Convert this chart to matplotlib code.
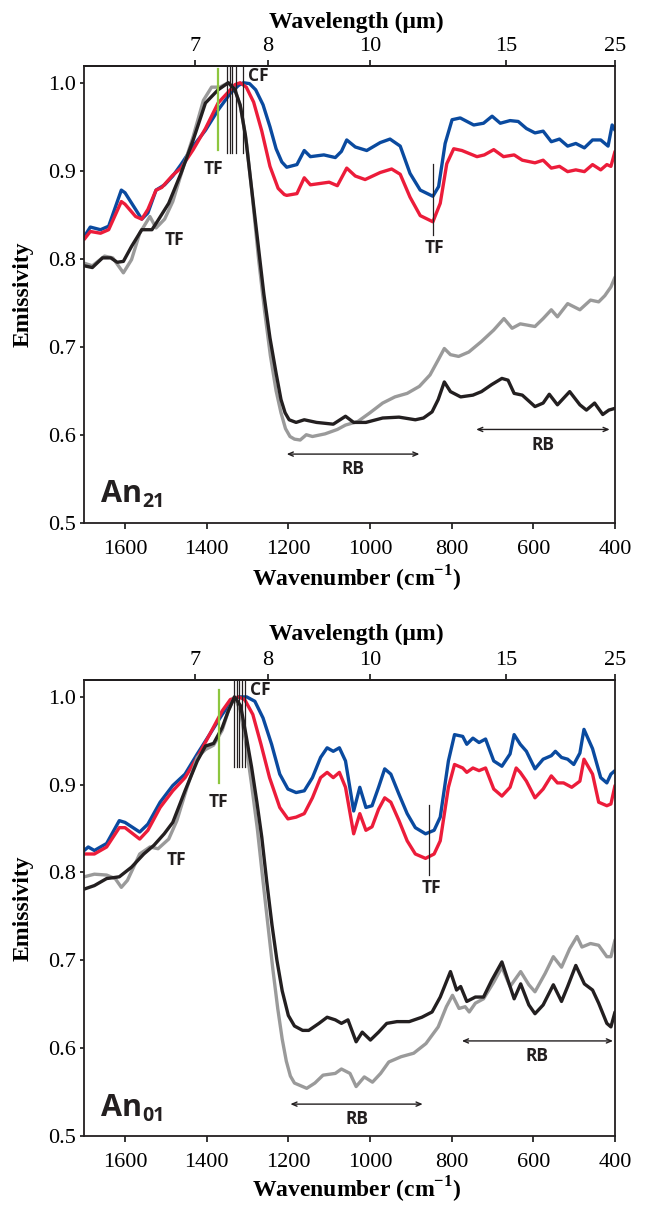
import numpy as np
import matplotlib.pyplot as plt
from matplotlib.ticker import FormatStrFormatter

plt.rcParams['font.family'] = 'Liberation Serif'
plt.rcParams['mathtext.fontset'] = 'custom'
plt.rcParams['mathtext.rm'] = 'Liberation Serif'
plt.rcParams['mathtext.bf'] = 'Liberation Serif:bold'

BLUE = '#0a4a9f'
RED = '#ec1c3a'
BLACK = '#231f20'
GRAY = '#9a9a9a'
GREEN = '#8dc63f'
SANS = 'Open Sans'

# ---------- An21 (top panel) ----------
an21_blue_x = [1700, 1685, 1660, 1640, 1609, 1600, 1574, 1559, 1544, 1524, 1503, 1483, 1463, 1433, 1403,
               1372, 1342, 1322, 1310, 1295, 1280, 1262, 1245, 1230, 1216, 1204, 1179, 1161, 1146, 1113,
               1085, 1070, 1057, 1036, 1008, 975, 951, 926, 902, 877, 846, 832, 816, 799, 779, 746, 722,
               701, 681, 657, 637, 617, 596, 576, 556, 536, 516, 496, 475, 455, 435, 417, 407, 400]
an21_blue_y = [0.825, 0.836, 0.833, 0.837, 0.878, 0.875, 0.856, 0.845, 0.852, 0.878, 0.884, 0.894, 0.907,
               0.928, 0.946, 0.969, 0.988, 0.997, 1.0, 0.999, 0.992, 0.975, 0.950, 0.925, 0.910, 0.904,
               0.907, 0.923, 0.916, 0.918, 0.915, 0.922, 0.935, 0.927, 0.923, 0.932, 0.936, 0.928, 0.897,
               0.878, 0.871, 0.882, 0.931, 0.958, 0.960, 0.952, 0.954, 0.962, 0.954, 0.957, 0.956, 0.948,
               0.943, 0.945, 0.933, 0.936, 0.928, 0.931, 0.926, 0.935, 0.935, 0.928, 0.952, 0.946]

an21_red_x = [1700, 1685, 1660, 1640, 1609, 1600, 1574, 1559, 1544, 1524, 1510, 1483, 1463, 1433, 1403,
              1372, 1342, 1330, 1318, 1303, 1285, 1265, 1245, 1225, 1210, 1204, 1179, 1161, 1146, 1100,
              1080, 1057, 1036, 1012, 975, 947, 926, 902, 877, 846, 828, 812, 795, 775, 738, 720, 697,
              673, 647, 627, 596, 576, 556, 536, 516, 496, 475, 455, 435, 420, 410, 400]
an21_red_y = [0.822, 0.831, 0.829, 0.833, 0.865, 0.862, 0.848, 0.845, 0.856, 0.878, 0.881, 0.895, 0.903,
              0.924, 0.948, 0.977, 0.992, 0.998, 1.0, 0.995, 0.978, 0.945, 0.905, 0.880, 0.873, 0.872,
              0.874, 0.892, 0.884, 0.887, 0.883, 0.903, 0.894, 0.890, 0.898, 0.902, 0.896, 0.870, 0.849,
              0.842, 0.863, 0.908, 0.925, 0.923, 0.916, 0.918, 0.924, 0.916, 0.918, 0.912, 0.909, 0.912,
              0.903, 0.905, 0.899, 0.901, 0.899, 0.907, 0.901, 0.907, 0.905, 0.922]

an21_black_x = [1700, 1680, 1655, 1635, 1619, 1604, 1584, 1559, 1534, 1520, 1493, 1463, 1433, 1403, 1372,
                1347, 1332, 1318, 1305, 1290, 1275, 1260, 1245, 1230, 1218, 1208, 1198, 1181, 1161, 1131,
                1090, 1060, 1040, 1010, 969, 929, 889, 869, 848, 833, 818, 803, 778, 748, 727, 702, 677,
                662, 647, 627, 596, 576, 561, 541, 511, 486, 470, 450, 430, 415, 400]
an21_black_y = [0.792, 0.790, 0.801, 0.801, 0.796, 0.797, 0.814, 0.833, 0.833, 0.843, 0.863, 0.897, 0.935,
                0.977, 0.992, 1.0, 0.993, 0.975, 0.94, 0.88, 0.82, 0.76, 0.71, 0.67, 0.64, 0.625, 0.617,
                0.614, 0.617, 0.614, 0.612, 0.621, 0.614, 0.614, 0.619, 0.620, 0.617, 0.619, 0.626, 0.640,
                0.660, 0.649, 0.643, 0.645, 0.649, 0.657, 0.664, 0.662, 0.647, 0.645, 0.632, 0.636, 0.646,
                0.634, 0.649, 0.634, 0.628, 0.636, 0.623, 0.628, 0.630]

an21_gray_x = [1700, 1680, 1650, 1630, 1604, 1584, 1564, 1539, 1524, 1503, 1483, 1458, 1433, 1408, 1388,
               1368, 1347, 1330, 1316, 1302, 1288, 1273, 1258, 1244, 1230, 1218, 1207, 1196, 1185, 1171,
               1156, 1141, 1110, 1080, 1060, 1030, 1000, 969, 939, 909, 879, 853, 833, 818, 803, 783, 758,
               727, 697, 672, 652, 632, 596, 576, 556, 541, 516, 486, 460, 440, 425, 410, 400]
an21_gray_y = [0.795, 0.792, 0.803, 0.801, 0.784, 0.799, 0.829, 0.848, 0.835, 0.845, 0.865, 0.903, 0.939,
               0.980, 0.995, 0.995, 1.0, 0.992, 0.970, 0.93, 0.87, 0.80, 0.74, 0.69, 0.65, 0.625, 0.607,
               0.598, 0.595, 0.594, 0.600, 0.598, 0.601, 0.606, 0.611, 0.615, 0.625, 0.636, 0.643, 0.647,
               0.655, 0.668, 0.685, 0.698, 0.691, 0.689, 0.694, 0.706, 0.719, 0.732, 0.721, 0.726, 0.723,
               0.732, 0.742, 0.734, 0.749, 0.742, 0.753, 0.751, 0.758, 0.768, 0.779]

# ---------- An01 (bottom panel) ----------
an01_blue_x = [1700, 1690, 1675, 1645, 1614, 1600, 1564, 1544, 1514, 1483, 1453, 1423, 1393, 1362, 1342,
               1322, 1302, 1282, 1262, 1241, 1221, 1201, 1181, 1161, 1141, 1121, 1105, 1090, 1075, 1060,
               1040, 1025, 1010, 995, 979, 964, 949, 929, 909, 889, 864, 843, 828, 808, 793, 773, 763,
               748, 733, 717, 697, 677, 657, 647, 632, 617, 596, 576, 556, 546, 531, 516, 501, 486, 476,
               455, 435, 420, 410, 400]
an01_blue_y = [0.825, 0.829, 0.825, 0.833, 0.859, 0.857, 0.846, 0.855, 0.880, 0.899, 0.912, 0.935, 0.957,
               0.980, 0.993, 1.0, 1.0, 0.995, 0.976, 0.946, 0.912, 0.895, 0.891, 0.893, 0.908, 0.931,
               0.942, 0.938, 0.942, 0.927, 0.870, 0.897, 0.874, 0.876, 0.897, 0.918, 0.912, 0.889, 0.867,
               0.851, 0.844, 0.848, 0.863, 0.927, 0.957, 0.955, 0.946, 0.953, 0.948, 0.952, 0.927, 0.921,
               0.935, 0.957, 0.946, 0.938, 0.918, 0.929, 0.933, 0.938, 0.931, 0.929, 0.923, 0.936, 0.963,
               0.941, 0.908, 0.902, 0.912, 0.916]

an01_red_x = [1700, 1675, 1645, 1614, 1600, 1564, 1544, 1514, 1483, 1453, 1423, 1393, 1362, 1342, 1322,
              1307, 1287, 1267, 1246, 1221, 1201, 1181, 1161, 1141, 1121, 1105, 1090, 1075, 1060, 1040,
              1025, 1010, 995, 979, 964, 949, 929, 909, 889, 864, 843, 828, 808, 793, 773, 763, 748, 733,
              717, 697, 677, 657, 642, 632, 617, 596, 576, 556, 541, 526, 506, 486, 476, 455, 440, 420,
              410, 400]
an01_red_y = [0.821, 0.821, 0.829, 0.851, 0.851, 0.838, 0.848, 0.874, 0.893, 0.908, 0.931, 0.957, 0.984,
              0.997, 1.0, 0.997, 0.980, 0.946, 0.908, 0.874, 0.861, 0.863, 0.867, 0.885, 0.908, 0.914,
              0.908, 0.914, 0.897, 0.844, 0.867, 0.848, 0.852, 0.872, 0.885, 0.880, 0.859, 0.836, 0.821,
              0.816, 0.821, 0.836, 0.897, 0.923, 0.919, 0.914, 0.919, 0.916, 0.919, 0.895, 0.887, 0.897,
              0.919, 0.914, 0.904, 0.885, 0.895, 0.910, 0.902, 0.902, 0.897, 0.904, 0.929, 0.912, 0.880,
              0.876, 0.878, 0.899]

an01_black_x = [1700, 1675, 1645, 1614, 1584, 1554, 1529, 1504, 1483, 1453, 1423, 1403, 1383, 1362, 1347,
                1332, 1317, 1305, 1290, 1277, 1265, 1253, 1240, 1228, 1215, 1200, 1185, 1165, 1150, 1125,
                1105, 1085, 1070, 1054, 1034, 1019, 999, 979, 959, 934, 904, 873, 848, 828, 803, 788, 778,
                763, 742, 722, 702, 677, 662, 647, 631, 611, 596, 576, 551, 531, 516, 496, 475, 455, 440,
                420, 410, 400]
an01_black_y = [0.781, 0.785, 0.793, 0.795, 0.806, 0.821, 0.831, 0.844, 0.857, 0.893, 0.927, 0.944, 0.947,
                0.965, 0.984, 1.0, 0.99, 0.96, 0.92, 0.88, 0.84, 0.79, 0.74, 0.70, 0.665, 0.637, 0.625,
                0.620, 0.620, 0.628, 0.635, 0.632, 0.628, 0.632, 0.607, 0.618, 0.609, 0.618, 0.628, 0.630,
                0.630, 0.635, 0.641, 0.658, 0.687, 0.666, 0.670, 0.653, 0.658, 0.658, 0.677, 0.698, 0.677,
                0.656, 0.673, 0.649, 0.639, 0.649, 0.672, 0.653, 0.670, 0.694, 0.673, 0.666, 0.651, 0.628,
                0.624, 0.641]

an01_gray_x = [1700, 1675, 1645, 1624, 1609, 1594, 1564, 1539, 1519, 1493, 1473, 1448, 1423, 1403, 1383,
               1362, 1347, 1332, 1318, 1305, 1290, 1276, 1262, 1250, 1238, 1226, 1215, 1205, 1195, 1185,
               1155, 1135, 1115, 1085, 1070, 1049, 1034, 1014, 994, 974, 954, 924, 893, 863, 833, 813,
               798, 782, 767, 757, 742, 722, 697, 677, 657, 631, 611, 596, 571, 551, 531, 511, 493, 481,
               460, 440, 420, 410, 400]
an01_gray_y = [0.795, 0.798, 0.797, 0.793, 0.783, 0.791, 0.821, 0.829, 0.827, 0.838, 0.859, 0.897, 0.931,
               0.940, 0.945, 0.962, 0.984, 1.0, 0.985, 0.95, 0.90, 0.85, 0.79, 0.74, 0.69, 0.645, 0.61,
               0.585, 0.568, 0.560, 0.554, 0.560, 0.569, 0.571, 0.576, 0.571, 0.556, 0.567, 0.561, 0.571,
               0.584, 0.590, 0.594, 0.605, 0.624, 0.647, 0.660, 0.645, 0.647, 0.641, 0.651, 0.656, 0.675,
               0.692, 0.670, 0.687, 0.672, 0.664, 0.685, 0.704, 0.692, 0.713, 0.727, 0.715, 0.719, 0.717,
               0.704, 0.704, 0.723]

# feature positions (cm-1)
an21_cf = [1351, 1344, 1337, 1327, 1312]
an01_cf = [1333, 1326, 1320, 1313, 1306]
an21_tf_green, an01_tf_green = 1372, 1370
an21_tf_low, an01_tf_low = 846, 855
an21_rb = [(1204, 879), (740, 413)]
an01_rb = [(1195, 871), (775, 405)]

wn_ticks = [1600, 1400, 1200, 1000, 800, 600, 400]
wl_ticks = [7, 8, 10, 15, 25]
em_ticks = [0.5, 0.6, 0.7, 0.8, 0.9, 1.0]


def wn_to_wl(x):
    x = np.asarray(x, dtype=float)
    with np.errstate(divide='ignore'):
        return 10000.0 / x


def setup(ax):
    ax.set_xlim(1700, 400)
    ax.set_ylim(0.5, 1.019)
    ax.set_xticks(wn_ticks)
    ax.set_yticks(em_ticks)
    ax.yaxis.set_major_formatter(FormatStrFormatter('%.1f'))
    ax.tick_params(axis='x', direction='out', length=4.5, width=1.1, labelsize=16, pad=8)
    ax.tick_params(axis='y', direction='out', length=3, width=1.1, labelsize=16, pad=3)
    for s in ax.spines.values():
        s.set_linewidth(1.3)
        s.set_color(BLACK)
    sec = ax.secondary_xaxis('top', functions=(wn_to_wl, wn_to_wl))
    sec.set_xticks(wl_ticks)
    sec.set_xticklabels([str(w) for w in wl_ticks])
    sec.tick_params(direction='out', length=4.5, width=1.1, labelsize=16, pad=3)
    sec.spines['top'].set_linewidth(1.3)


def draw(ax, curves, cf, tf_green, tf_green_y, tf_green_dx, tf_left, tf_low, tf_low_y,
         rb, rb_y, sub, sub_y):
    for x, y, c in curves:
        ax.plot(x, y, color=c, lw=2.4, solid_joinstyle='round', solid_capstyle='round')
    for x in cf:
        ax.plot([x, x], [1.018, 0.920], color=BLACK, lw=0.9, zorder=5)
    ax.text(cf[-1] - 12, 0.998, 'CF', fontfamily=SANS, fontweight='bold', fontsize=12.5,
            color=BLACK, ha='left', va='bottom')
    ax.plot([tf_green, tf_green], tf_green_y, color=GREEN, lw=1.6, zorder=5)
    ax.text(tf_green + tf_green_dx, tf_green_y[1] - 0.012, 'TF', fontfamily=SANS, fontweight='bold',
            fontsize=12.5, color=BLACK, ha='center', va='top')
    ax.text(tf_left[0], tf_left[1], 'TF', fontfamily=SANS, fontweight='bold', fontsize=12.5,
            color=BLACK, ha='center', va='center')
    ax.plot([tf_low, tf_low], tf_low_y, color=BLACK, lw=0.9, zorder=5)
    ax.text(tf_low - 5, tf_low_y[1] - 0.005, 'TF', fontfamily=SANS, fontweight='bold',
            fontsize=12.5, color=BLACK, ha='center', va='top')
    for (x0, x1), yy in zip(rb, rb_y):
        ax.annotate('', xy=(x1, yy), xytext=(x0, yy),
                    arrowprops=dict(arrowstyle='<->,head_length=0.35,head_width=0.15',
                                    lw=1.0, color=BLACK, shrinkA=0, shrinkB=0))
        ax.text((x0 + x1) / 2, yy - 0.007, 'RB', fontfamily=SANS, fontweight='bold', fontsize=12.5,
                color=BLACK, ha='center', va='top')
    t = ax.text(1660, sub_y, 'An', fontfamily=SANS, fontweight='bold', fontsize=22,
                color=BLACK, ha='left', va='baseline')
    ax.annotate(sub, xy=(1, 0), xycoords=t, xytext=(0.5, -2), textcoords='offset points',
                fontfamily=SANS, fontweight='bold', fontsize=14, color=BLACK,
                ha='left', va='bottom')


fig = plt.figure(figsize=(6.45, 12.05), dpi=100)
ax1 = fig.add_axes([0.1305, 0.5662, 0.823, 0.379])
ax2 = fig.add_axes([0.1305, 0.0575, 0.823, 0.378])
setup(ax1)
setup(ax2)

draw(ax1,
     [(an21_blue_x, an21_blue_y, BLUE), (an21_red_x, an21_red_y, RED),
      (an21_gray_x, an21_gray_y, GRAY), (an21_black_x, an21_black_y, BLACK)],
     an21_cf, an21_tf_green, [1.016, 0.924], 12, (1478, 0.821), an21_tf_low, [0.908, 0.827],
     an21_rb, [0.578, 0.606], '21', 0.523)
draw(ax2,
     [(an01_blue_x, an01_blue_y, BLUE), (an01_red_x, an01_red_y, RED),
      (an01_gray_x, an01_gray_y, GRAY), (an01_black_x, an01_black_y, BLACK)],
     an01_cf, an01_tf_green, [1.008, 0.902], 0, (1475, 0.814), an01_tf_low, [0.877, 0.797],
     an01_rb, [0.536, 0.608], '01', 0.522)

for yb in (0.9765, 0.4689):
    fig.text(0.553, yb, 'Wavelength (\u03bcm)', ha='center', va='baseline',
             fontsize=17, fontweight='bold')
for yb in (0.5129, 0.0066):
    fig.text(0.553, yb, r'Wavenumber (cm$^{\mathbf{-1}}$)', ha='center', va='baseline',
             fontsize=17, fontweight='bold')
for yc in (0.756, 0.2465):
    fig.text(0.036, yc, 'Emissivity', rotation=90, ha='center', va='center',
             fontsize=17, fontweight='bold')

fig.savefig('out.png', dpi=100)
